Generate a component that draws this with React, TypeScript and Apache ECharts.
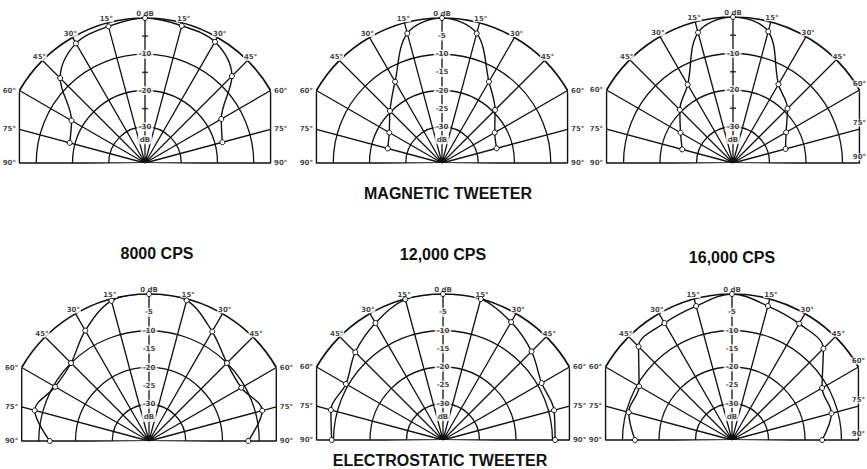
import React, { useEffect, useRef } from "react";
import * as echarts from "echarts";

// Measurement angles (degrees off axis, left negative) and relative level in dB
const ANGLES = [-90, -75, -60, -45, -30, -15, 0, 15, 30, 45, 60, 75, 90];
const MAGNETIC_8000 = [null, -18.5, -16.6, -6.9, -1.9, -1, 0, -0.8, -1.4, -6.1, -15.7, -17.9, null];
const MAGNETIC_12000 = [null, -24.5, -23.2, -19.7, -14.1, -3, 0, -3, -14.1, -19.3, -23.2, -24.4, null];
const MAGNETIC_16000 = [null, -25.6, -23.4, -19.4, -15.2, -3, 0, -2.7, -15.1, -18.9, -23.2, -25.1, null];
const ELECTROSTATIC_8000 = [-13, -7.8, -10.5, -10, -5.3, -0.5, 0, -0.4, -5.6, -10, -11, -8.1, -13];
const ELECTROSTATIC_12000 = [-9.5, -8.2, -9.3, -6, -3, -0.1, 0, 0, -2.7, -5.7, -8.8, -8.5, -9.3];
const ELECTROSTATIC_16000 = [-13.4, -10.7, -10.6, -3.8, -3, -2, 0, -2, -3.2, -4.6, -11.5, -11.8, -15.3];

// Scale labels on the vertical axis
const SCALE_FULL = [-5, -10, -15, -20, -25, -30];
const SCALE_SPARSE = [-10, -20, -30];
const MINOR_SPARSE = [-5, -15, -25];
const MINOR_NONE: number[] = [];
const ANGLE_LABELS = [-90, -75, -60, -45, -30, -15, 0, 15, 30, 45, 60, 75, 90];

const TEXTS = [
  { text: "MAGNETIC TWEETER", x: 448, y: 193, size: 16 },
  { text: "8000 CPS", x: 157, y: 253, size: 16 },
  { text: "12,000 CPS", x: 443, y: 254, size: 16 },
  { text: "16,000 CPS", x: 732, y: 257, size: 16 },
  { text: "ELECTROSTATIC TWEETER", x: 440, y: 460, size: 16 },
];

// layout (pixels)
const PANELS = [
  { values: MAGNETIC_8000, scale: SCALE_SPARSE, minor: MINOR_SPARSE, cx: 145, cy: 163, r: 145, tightRight: false },
  { values: MAGNETIC_12000, scale: SCALE_FULL, minor: MINOR_NONE, cx: 442, cy: 163, r: 145, tightRight: false },
  { values: MAGNETIC_16000, scale: SCALE_SPARSE, minor: MINOR_SPARSE, cx: 733, cy: 163, r: 146, tightRight: true },
  { values: ELECTROSTATIC_8000, scale: SCALE_FULL, minor: MINOR_NONE, cx: 149, cy: 441, r: 147, tightRight: false },
  { values: ELECTROSTATIC_12000, scale: SCALE_FULL, minor: MINOR_NONE, cx: 443, cy: 440, r: 146, tightRight: false },
  { values: ELECTROSTATIC_16000, scale: SCALE_FULL, minor: MINOR_NONE, cx: 732, cy: 440, r: 146, tightRight: true },
];

const INK = "#111";
const DB_MIN = -40;
const CUT = 60; // outer ring is cut at +-60 degrees, vertical edges below
const rad = (d: number) => (d * Math.PI) / 180;
// dB radius at which a radial line at angle a meets the vertical edge
const edgeDb = (a: number) =>
  Math.abs(a) <= CUT ? 0 : DB_MIN + (-DB_MIN * Math.sin(rad(CUT))) / Math.sin(rad(Math.abs(a)));

const smallFont = { fontSize: 7, fontWeight: "bold", fontFamily: "DejaVu Sans", color: INK };

function buildOption() {
  const polar: any[] = [];
  const angleAxis: any[] = [];
  const radiusAxis: any[] = [];
  const series: any[] = [];
  const lineStyle = { color: INK, width: 1.3 };
  const hidden = {
    axisLine: { show: false }, axisTick: { show: false },
    axisLabel: { show: false }, splitLine: { show: false },
  };

  PANELS.forEach((p, i) => {
    const ringIdx = 3 * i;
    const frameIdx = 3 * i + 1;
    const dataIdx = 3 * i + 2;
    polar.push({ center: [p.cx, p.cy], radius: p.r * 0.75 });
    polar.push({ center: [p.cx, p.cy], radius: p.r });
    polar.push({ center: [p.cx, p.cy], radius: p.r });

    // rings at -10, -20, -30 dB over the full half circle
    angleAxis.push({
      polarIndex: ringIdx, type: "value", min: -90, max: 90,
      startAngle: 180, endAngle: 0, clockwise: true, ...hidden,
    });
    radiusAxis.push({
      polarIndex: ringIdx, type: "value", min: DB_MIN, max: -10, interval: 10,
      ...hidden, splitLine: { show: true, lineStyle },
    });

    // outer 0 dB arc and radial lines up to +-60
    angleAxis.push({
      polarIndex: frameIdx, type: "value", min: -CUT, max: CUT, interval: 15,
      startAngle: 90 + CUT, endAngle: 90 - CUT, clockwise: true, ...hidden,
      axisLine: { show: true, lineStyle: { color: INK, width: 1.7 } },
      splitLine: { show: true, lineStyle },
    });
    radiusAxis.push({ polarIndex: frameIdx, type: "value", min: DB_MIN, max: 0, ...hidden });

    // data polar: slightly wider than the half circle so nothing on the baseline is clipped
    angleAxis.push({
      polarIndex: dataIdx, type: "value", min: -91, max: 91,
      startAngle: 181, endAngle: -1, clockwise: true, ...hidden,
    });
    radiusAxis.push({ polarIndex: dataIdx, type: "value", min: DB_MIN, max: 0, ...hidden });

    const frameSegments = [
      [[DB_MIN, -90], [edgeDb(-90), -90], [edgeDb(-75), -75], [0, -CUT]],
      [[0, CUT], [edgeDb(75), 75], [edgeDb(90), 90], [DB_MIN, 90]],
      [[DB_MIN, -75], [edgeDb(-75), -75]],
      [[DB_MIN, 75], [edgeDb(75), 75]],
    ];
    frameSegments.forEach((seg) => {
      series.push({
        type: "line", coordinateSystem: "polar", polarIndex: dataIdx,
        data: seg, symbol: "none", clip: false, silent: true, z: 1,
        lineStyle: { color: INK, width: 1.4 },
      });
    });

    // angle labels round the rim
    series.push({
      type: "scatter", coordinateSystem: "polar", polarIndex: dataIdx,
      data: ANGLE_LABELS.map((a) => {
        const abs = Math.abs(a);
        let pos: any = "inside";
        let r = 1.2;
        if (abs >= 60) {
          r = edgeDb(a);
          pos = a < 0 ? "left" : p.tightRight ? "insideBottom" : "right";
          if (a > 0 && p.tightRight) pos = "top";
        }
        return {
          value: [r, a],
          name: a === 0 ? "0 dB" : abs + "°",
          label: { position: pos },
        };
      }),
      symbolSize: 1, itemStyle: { color: "rgba(0,0,0,0)" }, clip: false, silent: true,
      label: {
        show: true, distance: 2, ...smallFont, backgroundColor: "#fff",
        padding: [0, 1], formatter: (d: any) => d.name,
      },
      z: 3,
    });

    // dB scale labels on the centre line
    series.push({
      type: "scatter", coordinateSystem: "polar", polarIndex: dataIdx,
      data: [...p.scale.map((v) => ({ value: [v, 0], name: String(v) })), { value: [-33.6, 0], name: "dB" }],
      symbolSize: 1, itemStyle: { color: "rgba(0,0,0,0)" }, clip: false, silent: true,
      label: {
        show: true, position: "inside", ...smallFont, backgroundColor: "#fff",
        padding: [1, 2], formatter: (d: any) => d.name,
      },
      z: 3,
    });

    if (p.minor.length) {
      series.push({
        type: "scatter", coordinateSystem: "polar", polarIndex: dataIdx,
        data: p.minor.map((v) => [v, 0]), symbol: "rect", symbolSize: [6, 1.5],
        itemStyle: { color: INK }, silent: true, clip: false, z: 3,
      });
    }

    // measured response
    series.push({
      type: "line", coordinateSystem: "polar", polarIndex: dataIdx,
      data: ANGLES.map((a, k) => [p.values[k], a]).filter((d) => d[0] !== null),
      smooth: 0.35, clip: false, symbol: "circle", symbolSize: 5, showSymbol: true,
      itemStyle: { color: "#fff", borderColor: INK, borderWidth: 1 },
      lineStyle: { color: INK, width: 1.4 }, z: 5, silent: true,
    });
  });

  const graphic = TEXTS.map((t) => ({
    type: "text", x: t.x, y: t.y,
    style: {
      text: t.text, fill: INK, font: `bold ${t.size}px "Liberation Sans"`,
      textAlign: "center", verticalAlign: "middle", textVerticalAlign: "middle",
    },
  }));

  return {
    animation: false,
    backgroundColor: "#fff",
    polar, angleAxis, radiusAxis, series, graphic,
  };
}

export default function App() {
  const ref = useRef<HTMLDivElement>(null);
  useEffect(() => {
    if (!ref.current) return;
    const chart = echarts.init(ref.current, undefined, { renderer: "svg" });
    chart.setOption(buildOption() as any);
    return () => chart.dispose();
  }, []);
  return (
    <div
      ref={ref}
      style={{ position: "absolute", left: 0, top: 0, width: 867, height: 469, background: "#fff" }}
    />
  );
}
